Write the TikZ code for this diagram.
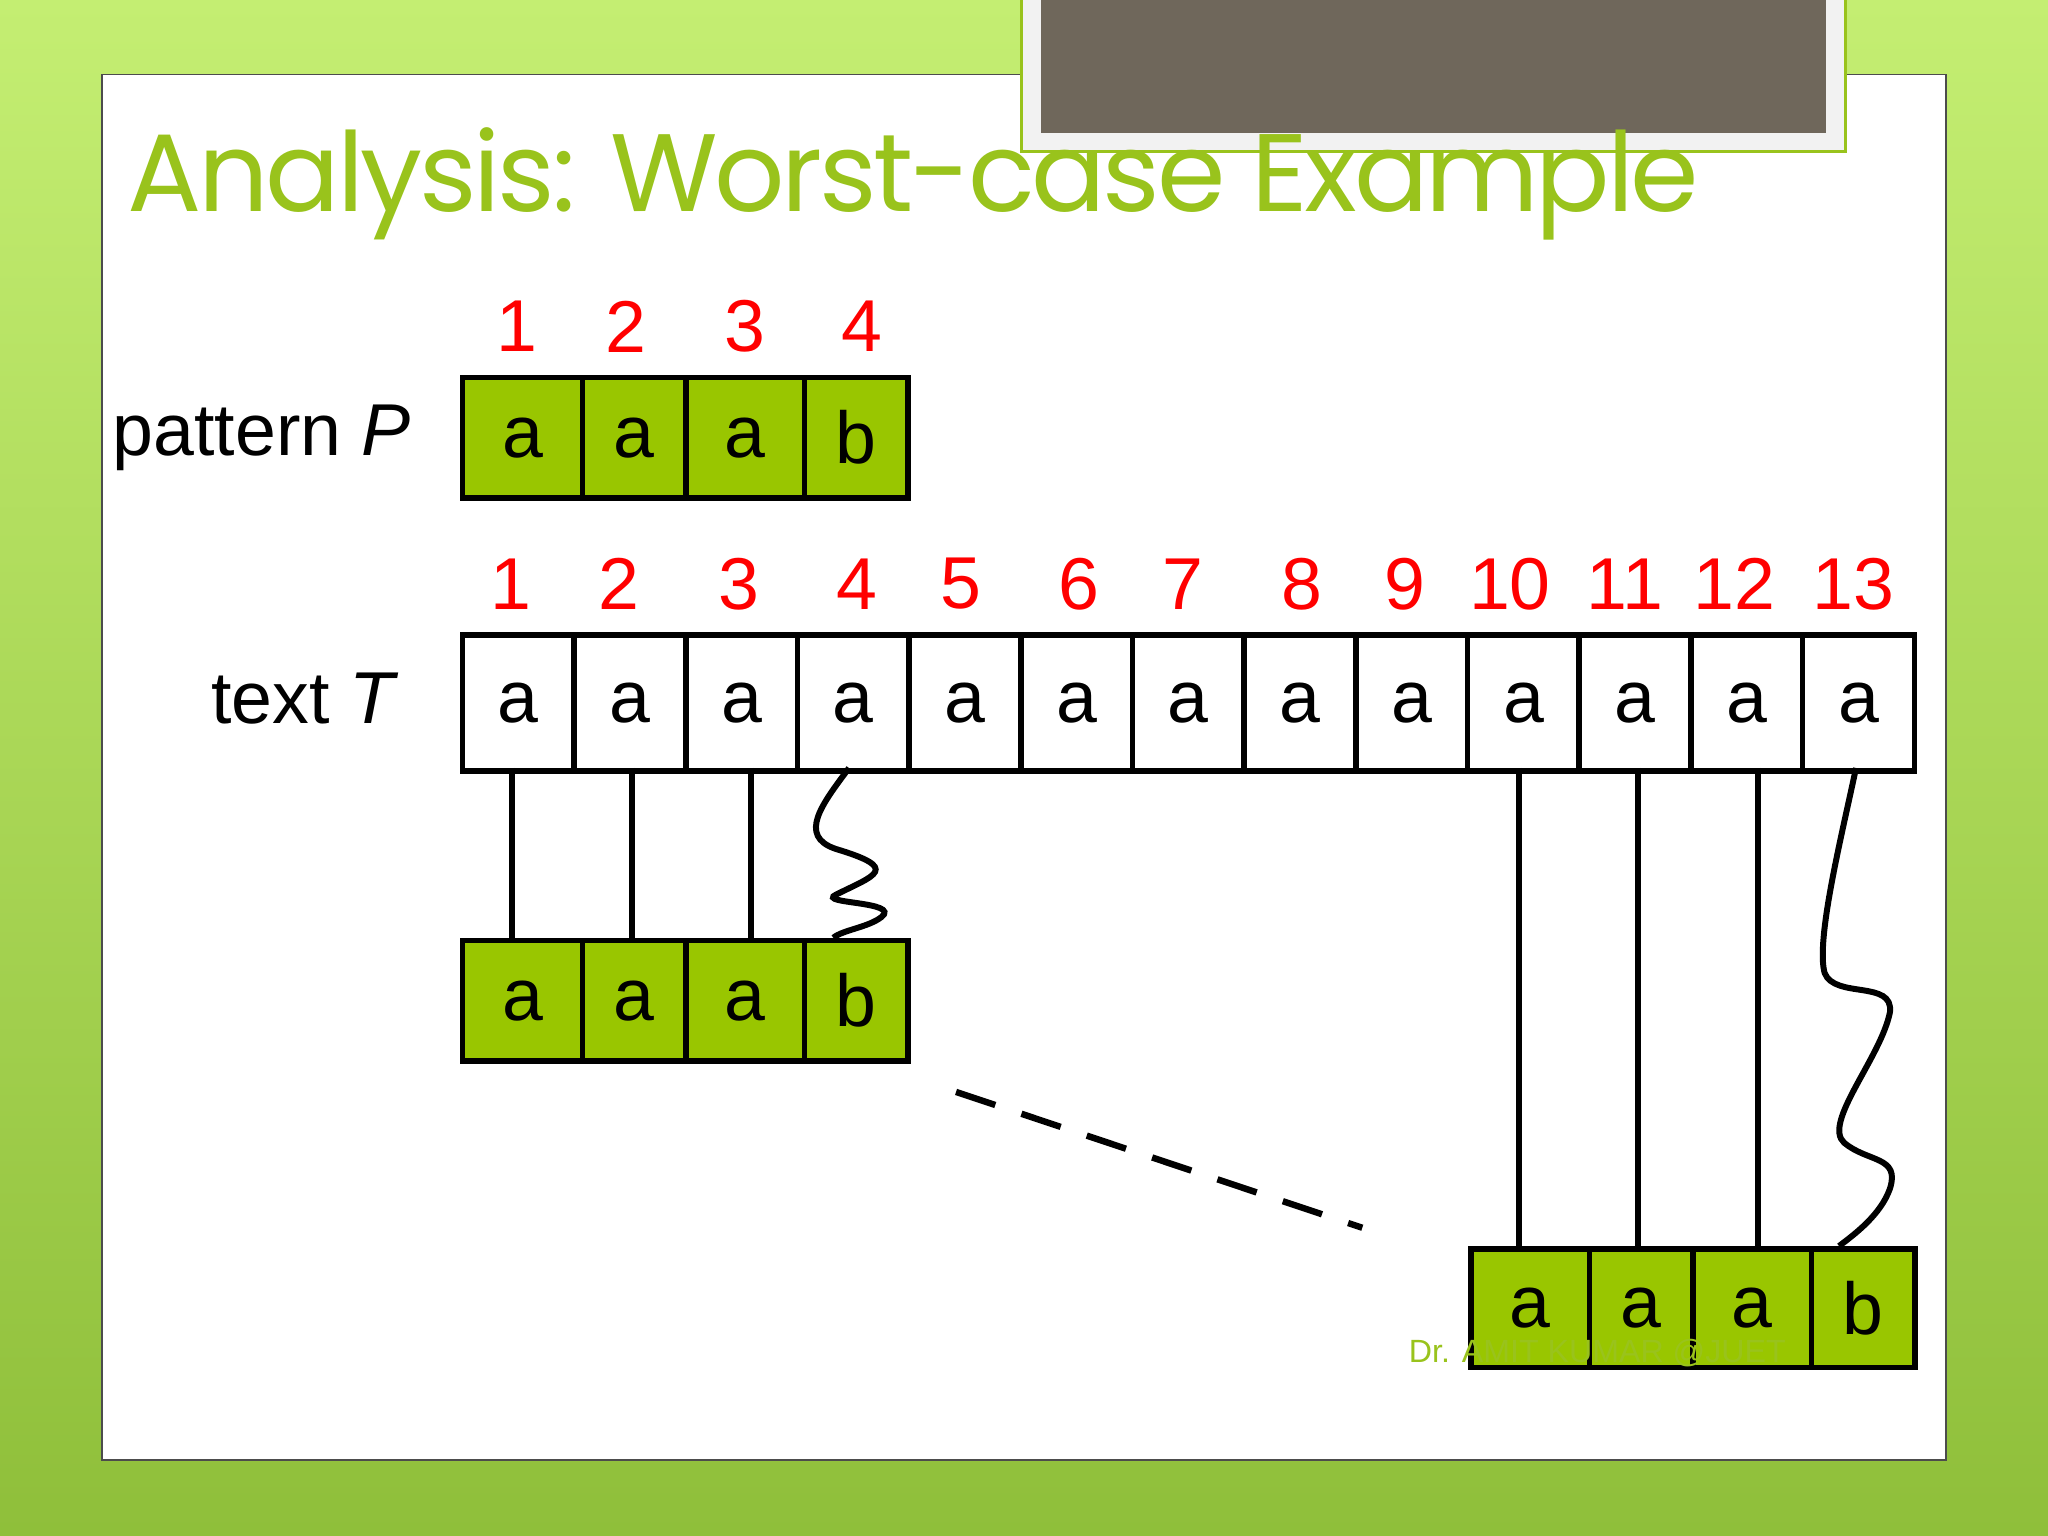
\documentclass[tikz,border=0pt]{standalone}
\usepackage{fontspec}
\setmainfont{Liberation Sans}
\newfontfamily\titlefont{Poppins}
\definecolor{bgA}{HTML}{C4EE72}
\definecolor{bgB}{HTML}{8FBF3A}
\definecolor{cellg}{HTML}{99C600}
\definecolor{titleg}{HTML}{99C31C}
\definecolor{grayb}{HTML}{6F675B}
\tikzset{
  cellP/.style={draw=black, line width=1.2pt, fill=cellg, minimum width=#1, minimum height=0.92cm, inner sep=0pt, font=\fontsize{16}{16}\selectfont, anchor=north west},
  cellT/.style={draw=black, line width=1.2pt, fill=white, minimum width=0.855cm, minimum height=1.04cm, inner sep=0pt, font=\fontsize{16}{16}\selectfont, anchor=north west},
  idx/.style={text=red, font=\fontsize{16}{16}\selectfont},
  lbl/.style={font=\fontsize{16}{16}\selectfont, anchor=east},
  conn/.style={line width=1.3pt},
}
\begin{document}
\begin{tikzpicture}[x=0.01cm,y=-0.01cm]
\useasboundingbox (0,0) rectangle (1568,1176);
\shade[top color=bgA, bottom color=bgB] (0,0) rectangle (1568,1176);
\fill[white] (78,57) rectangle (1490,1118);
\draw[gray!60!black, line width=0.4pt] (78,57) rectangle (1490,1118);
% gray header box
\fill[white!95!black, draw=titleg, line width=0.8pt] (782,-2) rectangle (1413,116);
\fill[grayb] (797,-2) rectangle (1398,102);
% title
\node[anchor=base west, inner sep=0pt, text=titleg, font=\titlefont\fontsize{24}{24}\selectfont\addfontfeature{LetterSpace=-3}] (title) at (97,162) {Analysis: Worst-case Example};
% pattern P
\node[lbl] (plbl) at (327,335) {pattern \textit{P}};
\foreach \i/\x/\w/\c in {1/352/0.92cm/a,2/444/0.79cm/a,3/523/0.91cm/a,4/614/0.79cm/b}{
  \node[cellP=\w] (p\i) at (\x,287) {\c};
}
\foreach \i/\x in {1/396,2/479,3/570,4/660}{
  \node[idx] (pi\i) at (\x,250) {\i};
}
% text T
\node[lbl] (tlbl) at (318,535) {text \textit{T}};
\foreach \i in {1,...,13}{
  \node[cellT] (t\i) at ({352+(\i-1)*85.5},484) {a};
}
\foreach \i/\x in {1/391,2/474,3/566,4/656,5/736,6/826,7/906,8/997,9/1076,10/1156,11/1244,12/1328,13/1419}{
  \node[idx] (ti\i) at (\x,447) {\i};
}
% lower pattern 1
\foreach \i/\x/\w/\c in {1/352/0.92cm/a,2/444/0.79cm/a,3/523/0.91cm/a,4/614/0.79cm/b}{
  \node[cellP=\w] (q\i) at (\x,718) {\c};
}
% lower pattern 2
\foreach \i/\x/\w/\c in {1/1124/0.91cm/a,2/1215/0.79cm/a,3/1294/0.91cm/a,4/1385/0.79cm/b}{
  \node[cellP=\w, minimum height=0.91cm] (r\i) at (\x,954) {\c};
}
% footer
\node[anchor=west, text=titleg, font=\fontsize{7}{7}\selectfont, inner sep=0pt] (foot) at (1078,1036) {Dr. AMIT KUMAR @JUET};
% connectors
\draw[conn] (392,588) -- (392,718);
\draw[conn] (484,588) -- (484,718);
\draw[conn] (575,588) -- (575,718);
\draw[conn] (650,588) .. controls (630,615) and (610,640) .. (640,650) .. controls (690,665) and (670,670) .. (640,685) .. controls (625,692) and (690,690) .. (675,702) .. controls (665,710) and (645,712) .. (638,718);
\draw[conn] (1163,588) -- (1163,954);
\draw[conn] (1254,588) -- (1254,954);
\draw[conn] (1346,588) -- (1346,954);
\draw[conn] (1421,588) .. controls (1410,640) and (1390,720) .. (1397,745) .. controls (1405,765) and (1450,750) .. (1447,775) .. controls (1440,810) and (1395,860) .. (1412,875) .. controls (1430,890) and (1455,885) .. (1447,910) .. controls (1440,930) and (1420,945) .. (1408,954);
\draw[line width=1.4pt, dash pattern=on 9pt off 6pt] (732,836) coordinate (d1) -- (1043,940) coordinate (d2);
\end{tikzpicture}
\end{document}
